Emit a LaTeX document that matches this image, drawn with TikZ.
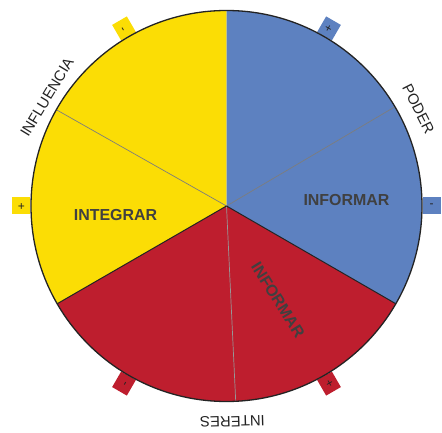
\documentclass[tikz,border=0pt]{standalone}
\usepackage{fontspec}
\setmainfont{Liberation Sans}
\definecolor{yel}{RGB}{251,221,5}
\definecolor{blu}{RGB}{93,129,192}
\definecolor{rd}{RGB}{190,30,46}
\definecolor{ink}{RGB}{35,35,35}
\definecolor{boldink}{RGB}{64,64,64}
\definecolor{divgray}{RGB}{125,125,125}
\begin{document}
\begin{tikzpicture}[x=1bp,y=1bp,
  tab/.style={minimum width=18bp, minimum height=17bp, inner sep=0pt, font=\fontsize{12}{12}\selectfont, text=ink},
  outer/.style={font=\fontsize{15}{15}\selectfont, text=ink, inner sep=0pt},
  inner/.style={font=\fontsize{16}{16}\selectfont\bfseries, text=boldink, inner sep=0pt},
  divider/.style={draw=divgray, line width=0.7bp},
  boundary/.style={draw=ink, line width=1bp},
  rim/.style={circle, draw=ink, line width=1.3bp, minimum size=391bp, inner sep=0pt, outer sep=0pt}]
\useasboundingbox (-226.5,-227) rectangle (215.5,206);
% tabs
\node[tab, fill=blu, rotate=0]   (t0)   at (0:205bp)   {-};
\node[tab, fill=blu, rotate=60]  (t60)  at (60:205bp)  {+};
\node[tab, fill=yel, rotate=120] (t120) at (120:205bp) {-};
\node[tab, fill=yel, rotate=180] (t180) at (180:205bp) {+};
\node[tab, fill=rd,  rotate=240] (t240) at (240:205bp) {-};
\node[tab, fill=rd,  rotate=300] (t300) at (300:205bp) {+};
% sectors
\coordinate (c) at (0,0);
\fill[yel] (c) -- (90:195.5bp) arc[start angle=90, end angle=210, radius=195.5bp] -- cycle;
\fill[rd]  (c) -- (210:195.5bp) arc[start angle=210, end angle=330, radius=195.5bp] -- cycle;
\fill[blu] (c) -- (330:195.5bp) arc[start angle=330, end angle=450, radius=195.5bp] -- cycle;
% dividers
\coordinate (g1) at (150.5:195.5bp);
\coordinate (g2) at (30.5:195.5bp);
\coordinate (g3) at (272.7:195.5bp);
\draw[divider] (c) -- (g1);
\draw[divider] (c) -- (g2);
\draw[divider, draw=divgray!80] (c) -- (g3);
% boundaries
\coordinate (b1) at (210:195.5bp);
\coordinate (b2) at (330:195.5bp);
\draw[boundary] (c) -- (b1);
\draw[boundary] (c) -- (b2);
\node[rim] (circ) at (c) {};
% outer labels
\node[outer, rotate=58.8]  (infl)    at (148.8:210bp) {INFLUENCIA};
\node[outer, rotate=-63.2] (poder)   at (26.8:215bp)  {PODER};
\node[outer, rotate=181.6] (interes) at (271.6:215.5bp) {INTERES};
% inner labels
\node[inner] (integ) at (-111,-9) {INTEGRAR};
\node[inner] (infb)  at (120,5.5) {INFORMAR};
\node[inner, rotate=-58] (infr) at (51.5,-94) {INFORMAR};
\end{tikzpicture}
\end{document}
